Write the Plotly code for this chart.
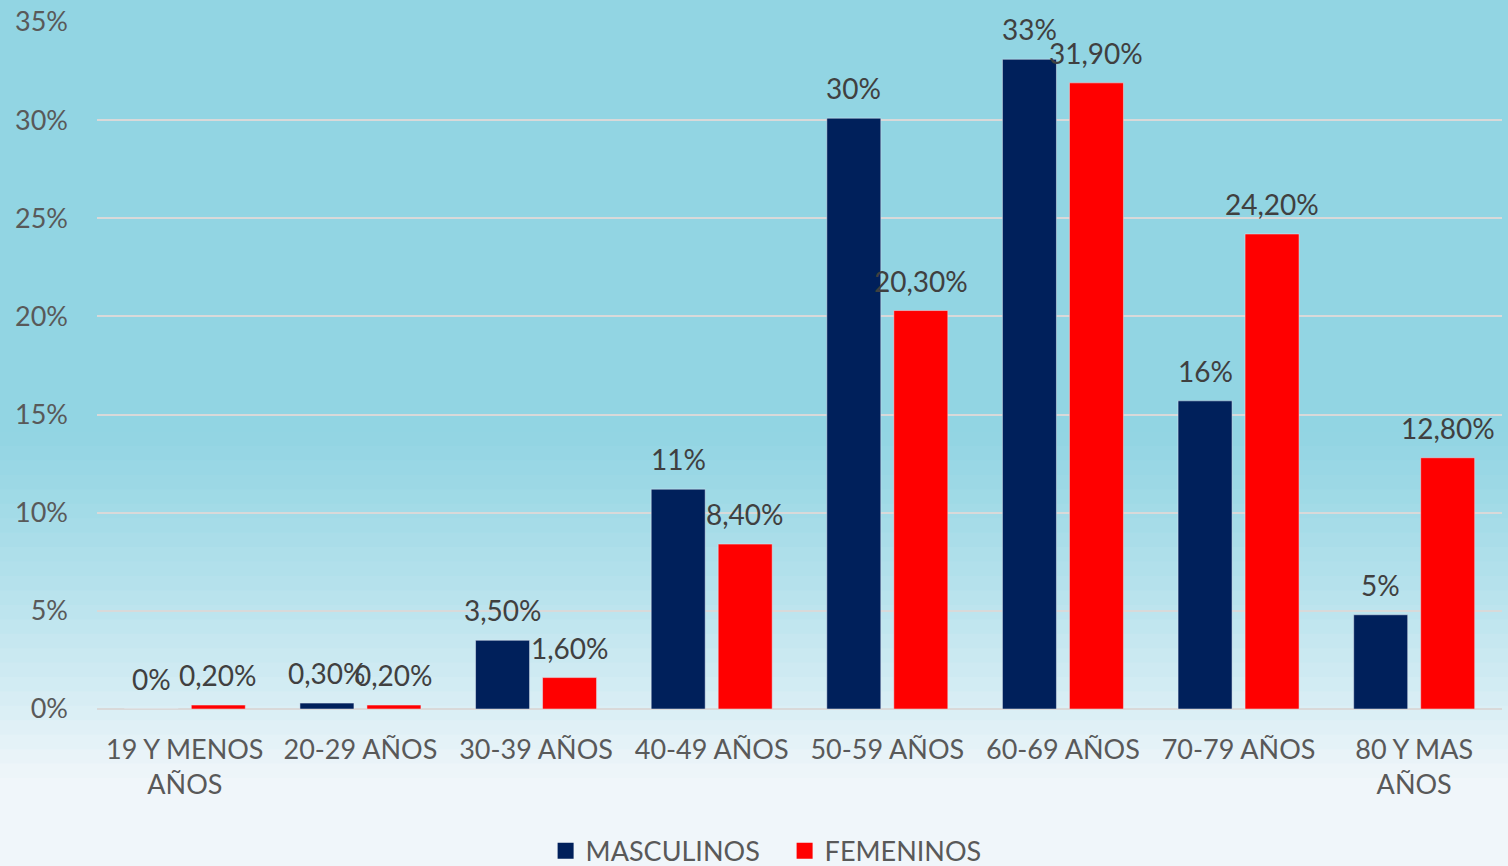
import plotly.graph_objects as go

categories = ["19 Y MENOS<br>AÑOS", "20-29 AÑOS", "30-39 AÑOS", "40-49 AÑOS",
              "50-59 AÑOS", "60-69 AÑOS", "70-79 AÑOS", "80 Y MAS<br>AÑOS"]
masculinos = [0.0, 0.3, 3.5, 11.2, 30.1, 33.1, 15.7, 4.8]
femeninos = [0.2, 0.2, 1.6, 8.4, 20.3, 31.9, 24.2, 12.8]
masc_labels = ["0%", "0,30%", "3,50%", "11%", "30%", "33%", "16%", "5%"]
fem_labels = ["0,20%", "0,20%", "1,60%", "8,40%", "20,30%", "31,90%", "24,20%", "12,80%"]
y_ticks = [0, 5, 10, 15, 20, 25, 30, 35]
y_tick_labels = ["0%", "5%", "10%", "15%", "20%", "25%", "30%", "35%"]

NAVY = "#00205b"
RED = "#ff0000"
FONT = "Lato"

fig = go.Figure()
fig.add_trace(go.Bar(x=categories, y=masculinos, name="MASCULINOS",
                     marker=dict(color=NAVY), showlegend=False))
fig.add_trace(go.Bar(x=categories, y=femeninos, name="FEMENINOS",
                     marker=dict(color=RED), showlegend=False))
# legend entries
fig.add_trace(go.Scatter(x=[None], y=[None], mode="markers", name="MASCULINOS",
                         marker=dict(symbol="square", size=18, color=NAVY)))
fig.add_trace(go.Scatter(x=[None], y=[None], mode="markers", name="FEMENINOS",
                         marker=dict(symbol="square", size=18, color=RED)))

annotations = []
for cat, v, t in zip(categories, masculinos, masc_labels):
    annotations.append(dict(x=cat, y=v, text=t, showarrow=False, xshift=-33.5, yshift=30,
                            yanchor="middle", font=dict(family=FONT, size=28, color="#404040")))
for cat, v, t in zip(categories, femeninos, fem_labels):
    annotations.append(dict(x=cat, y=v, text=t, showarrow=False, xshift=33.5, yshift=30,
                            yanchor="middle", font=dict(family=FONT, size=28, color="#404040")))

# background gradient bands (cyan top -> near white bottom)
shapes = []
top_col = (146, 213, 227)
bot_col = (240, 246, 250)
n = 60
page_h = 866
for i in range(n):
    y0 = i * page_h / n
    y1 = (i + 1) * page_h / n
    ym = (y0 + y1) / 2
    if ym < 430:
        f = 0.0
    elif ym > 780:
        f = 1.0
    else:
        f = ((ym - 430) / 350) ** 1.2
    c = tuple(int(round(top_col[k] + (bot_col[k] - top_col[k]) * f)) for k in range(3))
    p0 = (709 - y1) / 687
    p1 = (709 - y0) / 687
    shapes.append(dict(type="rect", xref="paper", yref="paper", x0=-0.1, x1=1.1,
                       y0=p0, y1=p1 + 0.002, fillcolor="rgb(%d,%d,%d)" % c,
                       line=dict(width=0), layer="below"))

fig.update_layout(
    width=1508, height=866,
    margin=dict(l=97, r=6, t=22, b=157, autoexpand=False),
    barmode="group", bargap=0.237, bargroupgap=0.194,
    paper_bgcolor="rgb(240,246,250)", plot_bgcolor="rgba(0,0,0,0)",
    font=dict(family=FONT, size=27, color="#595959"),
    hovermode=False,
    showlegend=True,
    legend=dict(orientation="h", xref="container", yref="container",
                x=0.5203, xanchor="center", y=0.017, yanchor="middle",
                entrywidth=194, entrywidthmode="pixels",
                font=dict(family=FONT, size=27, color="#595959"),
                bgcolor="rgba(0,0,0,0)", tracegroupgap=0),
    annotations=annotations,
    shapes=shapes,
    xaxis=dict(showgrid=False, showline=False, ticks="", ticklabelstandoff=22, automargin=False,
               tickfont=dict(family=FONT, size=27, color="#595959")),
    yaxis=dict(range=[0, 35], tickvals=y_ticks, ticktext=y_tick_labels, showgrid=True,
               gridcolor="#d9d9d9", gridwidth=2, zeroline=True, zerolinecolor="#d9d9d9",
               zerolinewidth=2, showline=False, ticks="", ticklabelstandoff=28, automargin=False,
               tickfont=dict(family=FONT, size=27, color="#595959")),
)

fig.write_html("out.html")
